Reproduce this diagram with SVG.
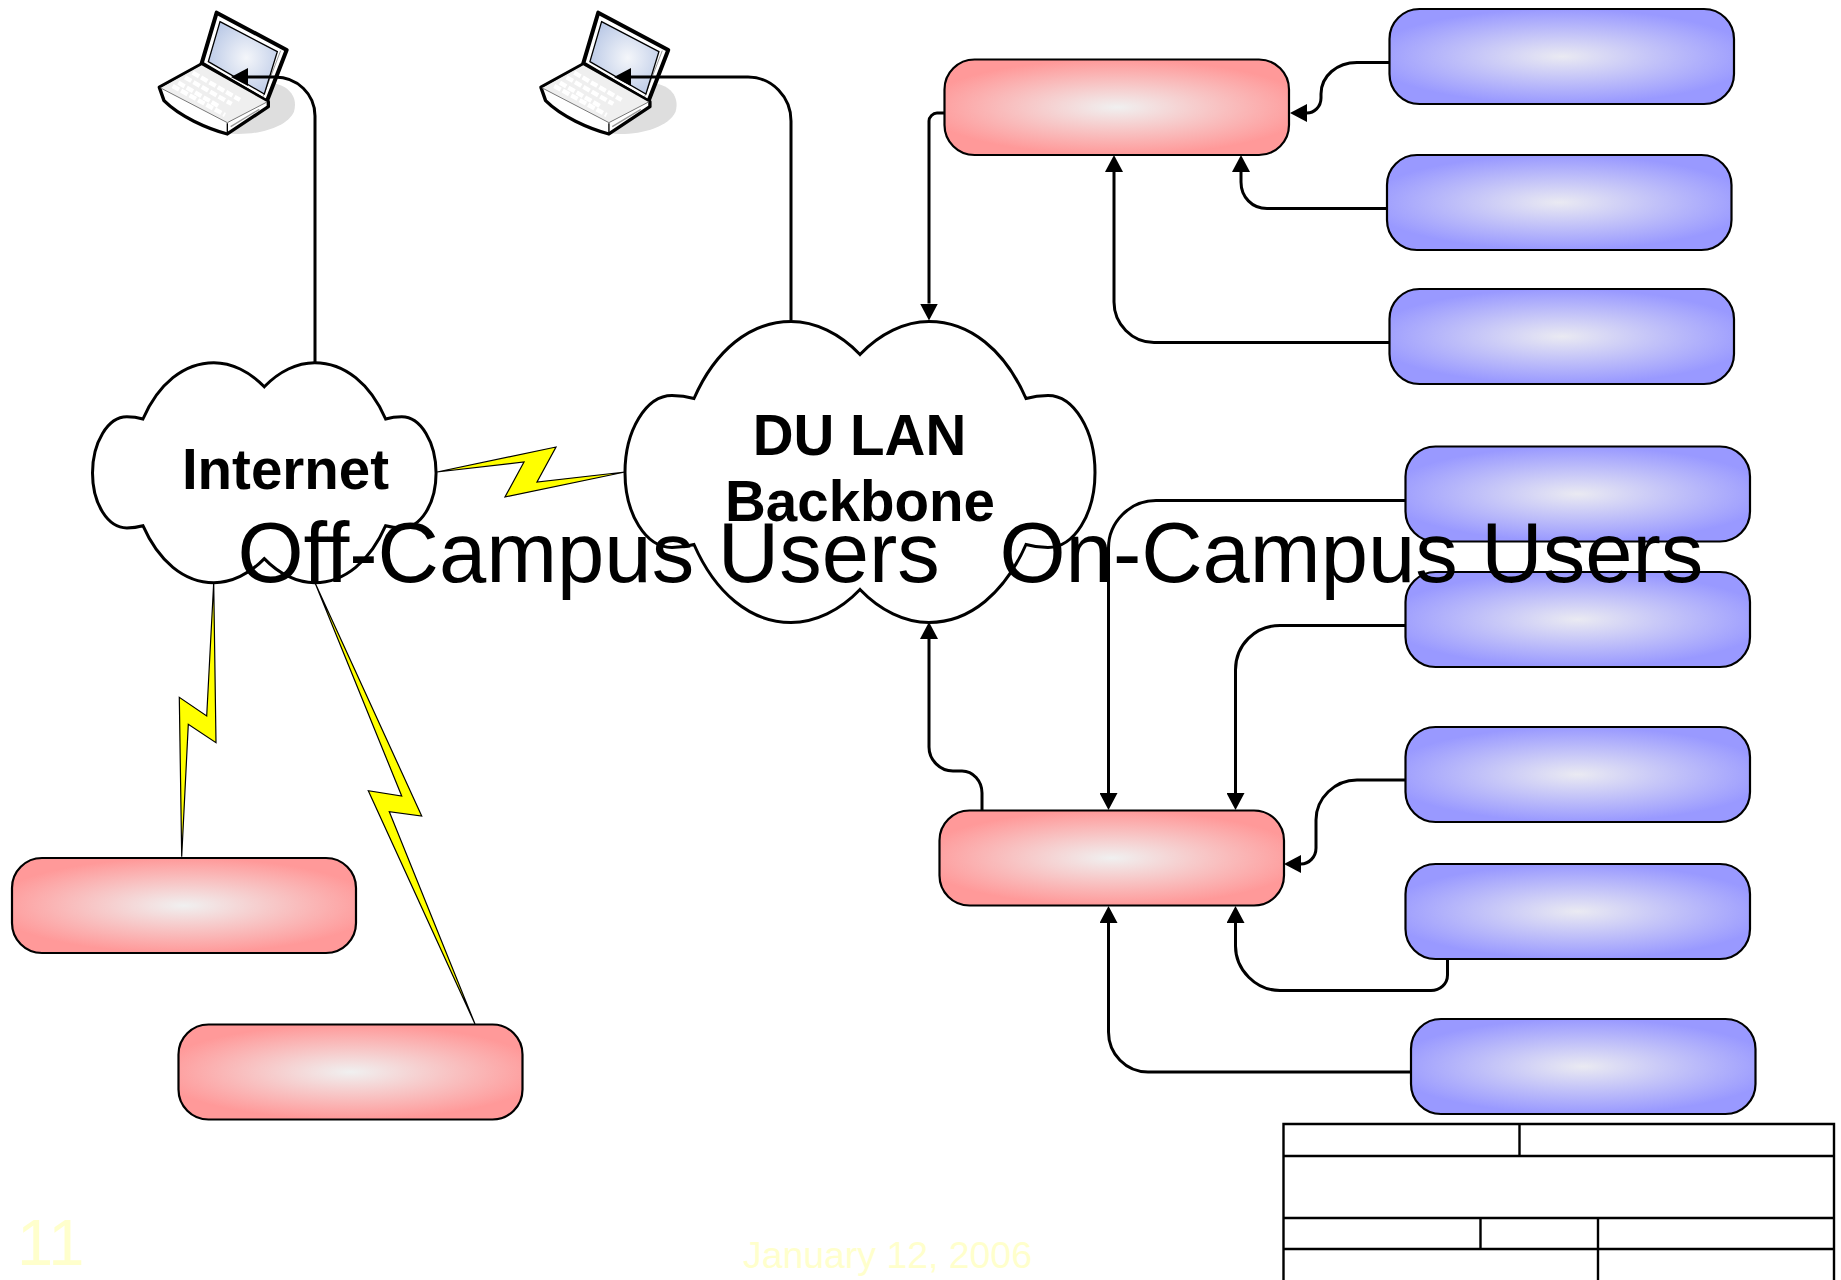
<svg xmlns="http://www.w3.org/2000/svg" width="1841" height="1280" viewBox="0 0 1841 1280">
<style>
text{font-family:"Liberation Sans",Arial,sans-serif;fill:#000}
.b{font-weight:700;font-size:56.5px;text-anchor:middle}
.big{font-size:85px}
.pale{fill:#FFFFCC}
.box{stroke:#000;stroke-width:2.2}
.red{fill:url(#gr)}
.blue{fill:url(#gb)}
.cloud{fill:#fff;stroke:#000;stroke-width:3;vector-effect:non-scaling-stroke}
.bolt{fill:#FF0;stroke:#000;stroke-width:1.2;stroke-linejoin:miter}
.c{fill:none;stroke:#000;stroke-width:3;marker-end:url(#ah)}
.t{fill:none;stroke:#000;stroke-width:2.4}
</style>
<defs>
<radialGradient id="gr" cx=".5" cy=".5" r=".5" gradientTransform="translate(.5,.5) scale(1.12,1) translate(-.5,-.5)"><stop offset="0" stop-color="#F0F0F0"/><stop offset="1" stop-color="#FF9999"/></radialGradient>
<radialGradient id="gb" cx=".5" cy=".5" r=".5" gradientTransform="translate(.5,.5) scale(1.12,1) translate(-.5,-.5)"><stop offset="0" stop-color="#EAEAF2"/><stop offset="1" stop-color="#9999FF"/></radialGradient>
<radialGradient id="gs" cx=".55" cy=".5" r=".6"><stop offset="0" stop-color="#F4F6FA"/><stop offset="1" stop-color="#B9C8E6"/></radialGradient>
<marker id="ah" markerUnits="userSpaceOnUse" markerWidth="18" markerHeight="18" refX="0" refY="9" orient="auto" viewBox="0 0 18 18"><path d="M0,0L17,9L0,18Z" fill="#000"/></marker>
<path id="cl" class="cloud" d="M235,33C215,12 190,0 166,0C125,0 90,29 69,77C62,75 55,74 47,74C21,74 0,109 0,151C0,193 21,226 47,226C55,226 62,225 69,223C90,271 125,301 166,301C190,301 215,289 235,268C255,289 280,301 304,301C345,301 380,271 401,223C408,225 415,226 423,226C449,226 470,193 470,151C470,109 449,74 423,74C415,74 408,75 401,77C380,29 345,0 304,0C280,0 255,12 235,33Z"/>
<g id="lap" transform="translate(140,0) scale(.3333)">
<path d="M395,250C445,255 475,290 462,335C440,385 340,410 258,400L200,300Z" fill="#DEDEDE"/>
<path d="M230,38L440,150L380,305L185,190Z" fill="#fff" stroke="#000" stroke-width="12" stroke-linejoin="round"/>
<path d="M422,152L366,298" stroke="#999" stroke-width="3" fill="none"/>
<path d="M240,65L412,155L373,282L205,185Z" fill="url(#gs)" stroke="#000" stroke-width="4"/>
<path d="M58,262L72,302C120,350 200,385 262,402L385,320L385,305L185,192Z" fill="#fff" stroke="#000" stroke-width="10" stroke-linejoin="round"/>
<path d="M62,264L185,196L381,306L262,368Z" fill="#EFEFEF"/>
<path d="M62,264L262,368L381,306" fill="none" stroke="#777" stroke-width="3"/>
<path d="M115,248L235,318M98,258L255,345M135,232L275,312M158,218L300,300" stroke="#fff" stroke-width="13" stroke-dasharray="22 7" fill="none"/>
<path d="M262,370V398" stroke="#000" stroke-width="4"/>
<path d="M272,380L358,328" stroke="#999" stroke-width="4" fill="none"/>
</g>
</defs>
<g id="laptop-1"><use href="#lap"/></g>
<g id="laptop-2"><use href="#lap" transform="translate(381.6,0)"/></g>

<g id="bolts">
<path class="bolt" d="M213.7,582.7L206.7,716L179.3,697.3L181.7,856.7L188.3,724.3L216,742.7Z"/>
<path class="bolt" d="M315,582.7L401.7,796L368.3,790.7L475,1024L389.3,811.7L421.7,816Z"/>
<path class="bolt" d="M437,472L524,462L505,497L625,472L537,482L556,447Z"/>
</g>

<g id="internet"><use href="#cl" transform="translate(92.5,362.7) scale(.731)"/><text class="b" x="285.500" y="489">Internet</text></g>
<g id="du-lan"><use href="#cl" transform="translate(625,321.500)"/><text class="b" x="859.500" y="455">DU LAN</text><text class="b" x="860" y="521">Backbone</text></g>

<g id="r1"><rect class="box red" x="944.500" y="59.500" width="344.500" height="95.500" rx="30"/></g>
<g id="r2"><rect class="box red" x="939.500" y="810.500" width="344.500" height="95" rx="30"/></g>
<g id="r3"><rect class="box red" x="12" y="858" width="344" height="95" rx="30"/></g>
<g id="r4"><rect class="box red" x="178.500" y="1024.500" width="344" height="95" rx="30"/></g>
<g id="b1"><rect class="box blue" x="1389.500" y="9" width="344.500" height="95" rx="30"/></g>
<g id="b2"><rect class="box blue" x="1387" y="155" width="344.500" height="95" rx="30"/></g>
<g id="b3"><rect class="box blue" x="1389.500" y="289" width="344.500" height="95" rx="30"/></g>
<g id="b4"><rect class="box blue" x="1405.500" y="446.500" width="344.500" height="95" rx="30"/></g>
<g id="b5"><rect class="box blue" x="1405.500" y="572" width="344.500" height="95" rx="30"/></g>
<g id="b6"><rect class="box blue" x="1405.500" y="727" width="344.500" height="95" rx="30"/></g>
<g id="b7"><rect class="box blue" x="1405.500" y="864" width="344.500" height="95" rx="30"/></g>
<g id="b8"><rect class="box blue" x="1411" y="1019" width="344.500" height="95" rx="30"/></g>

<g id="connectors">
<path class="c" d="M315,362V116C315,94 297,77 275,77H248"/>
<path class="c" d="M791,320V121C791,97 772,77 748,77H631"/>
<path class="c" d="M1389,62.500H1357C1337,62.500 1321,76 1321,94V98C1321,107 1314,113 1307,113"/>
<path class="c" d="M1387,208.500H1267C1252,208.500 1241,197 1241,182V172"/>
<path class="c" d="M1389,342.500H1154C1132,342.500 1114,324 1114,302V172"/>
<path class="c" d="M945,113H937C933,113 929,117 929,121V303.500"/>
<path class="c" d="M1405,500.500H1156C1130,500.500 1108.500,522 1108.500,548V793"/>
<path class="c" d="M1405,625.500H1280C1255,625.500 1235.500,645 1235.500,670V793"/>
<path class="c" d="M1405,780H1357C1335,780 1316,798 1316,820V848C1316,857 1309,864 1301,864"/>
<path class="c" d="M1447.500,959V975C1447.500,984 1440,990.500 1431,990.500H1280C1256,990.500 1235.500,970 1235.500,946V923"/>
<path class="c" d="M1411,1072H1148C1126,1072 1108.500,1054 1108.500,1032V923"/>
<path class="c" d="M982,810V793C982,781 973,771 962,771H953C940,771 929,760 929,747V639"/>
</g>

<g id="title-block">
<path class="t" d="M1283.500,1281V1124H1834V1281M1283.500,1156H1834M1283.500,1218H1834M1283.500,1249H1834M1519.500,1124V1156M1480.500,1218V1249M1598,1218V1281"/>
</g>

<text class="big" x="237.500" y="582">Off-Campus Users</text>
<text class="big" x="999.500" y="582">On-Campus Users</text>
<text class="pale" x="17" y="1265" font-size="65">11</text>
<text class="pale" x="743" y="1268" font-size="37.4">January 12, 2006</text>
</svg>
